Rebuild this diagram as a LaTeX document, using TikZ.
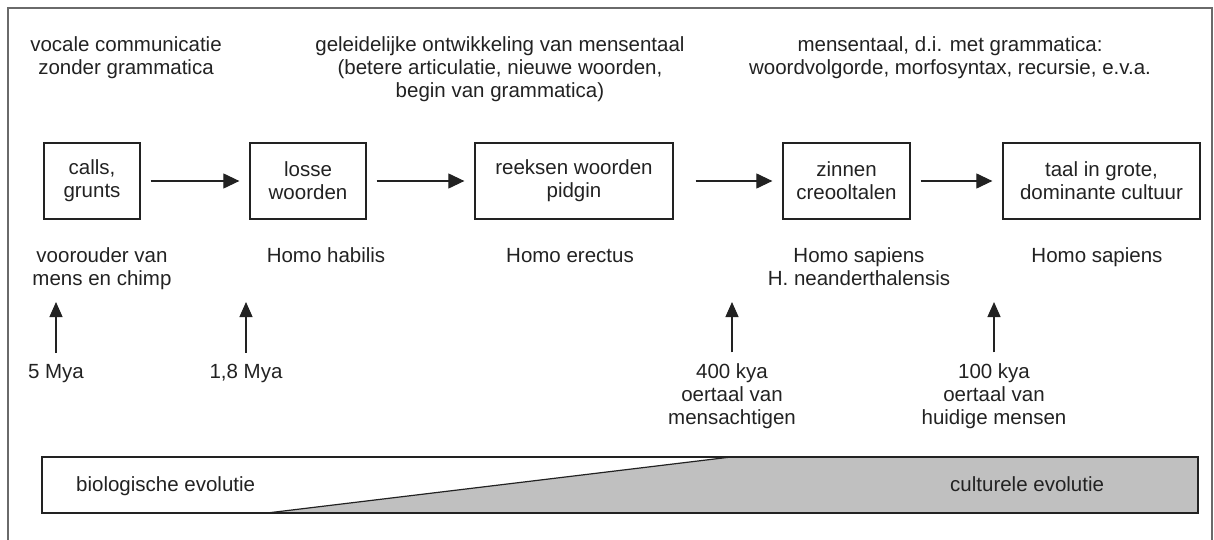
\documentclass[tikz,border=0pt]{standalone}
\usepackage{fontspec}
\setmainfont{Liberation Sans}
\usetikzlibrary{arrows.meta}
\definecolor{ink}{HTML}{222222}
\definecolor{framegray}{HTML}{6A6A6A}
\definecolor{culturegray}{HTML}{C0C0C0}

\begin{document}
\begin{tikzpicture}[x=1pt, y=-1pt,
  every node/.style={text=ink, inner sep=0pt, align=center,
    font=\fontsize{20.5}{23}\selectfont},
  stagebox/.style={draw=ink, line width=1.3pt, minimum height=76pt},
  nextarrow/.style={draw=ink, line width=1.2pt,
    -{Triangle[length=16pt,width=15pt]}, shorten <=10pt, shorten >=10pt},
  uparrow/.style={draw=ink, line width=1.2pt,
    -{Triangle[length=15pt,width=13pt]}, shorten <=10.5pt}]

  \useasboundingbox (0,0) rectangle (1214,540);
  \clip (0,0) rectangle (1214,540);

  % frame
  \draw[framegray, line width=2pt] (8,560) -- (8,8) -- (1212,8) -- (1212,560);

  % headings (base = last line)
  \node[anchor=base] (head1) at (126,75) {vocale communicatie\\zonder grammatica};
  \node[anchor=base] (head2) at (500,98) {geleidelijke ontwikkeling van mensentaal\\(betere articulatie, nieuwe woorden,\\begin van grammatica)};
  \node[anchor=base] (head3) at (950,75) {mensentaal, d.i. met grammatica:\\woordvolgorde, morfosyntax, recursie, e.v.a.};

  % stages
  \node[stagebox, minimum width=96pt]  (calls)   at (92,181)    {calls,\\grunts};
  \node[stagebox, minimum width=116pt] (losse)   at (308,181)   {losse\\woorden};
  \node[stagebox, minimum width=198pt] (reeksen) at (574,181)   {reeksen woorden\\pidgin};
  \node[stagebox, minimum width=127pt] (zinnen)  at (846.5,181) {zinnen\\creooltalen};
  \node[stagebox, minimum width=197pt] (taal)    at (1101.5,181) {taal in grote,\\dominante cultuur};

  \draw[nextarrow] (calls) -- (losse);   % calls -> losse
  \draw[nextarrow] (losse) -- (reeksen); % losse -> reeksen
  \draw[nextarrow, shorten <=22pt] (reeksen) -- (zinnen); % reeksen -> zinnen
  \draw[nextarrow] (zinnen) -- (taal);   % zinnen -> taal

  % species
  \node[anchor=base] (anc)     at (102,285)  {voorouder van\\mens en chimp};
  \node[anchor=base] (habilis) at (326,262)  {Homo habilis};
  \node[anchor=base] (erectus) at (570,262)  {Homo erectus};
  \node[anchor=base] (sapnea)  at (859,285)  {Homo sapiens\\H. neanderthalensis};
  \node[anchor=base] (sapiens) at (1097,262) {Homo sapiens};

  % dates
  \coordinate (tips) at (0,302);
  \node[anchor=base] (mya5)   at (56,378)  {5 Mya};
  \node[anchor=base] (mya18)  at (246,378) {1,8 Mya};
  \node[anchor=base] (kya400) at (732,424) {400 kya\\oertaal van\\mensachtigen};
  \node[anchor=base] (kya100) at (994,424) {100 kya\\oertaal van\\huidige mensen};

  \draw[uparrow] (mya5.north)   -- (mya5.north |- tips);
  \draw[uparrow] (mya18.north)  -- (mya18.north |- tips);
  \draw[uparrow] (kya400.north) -- (kya400.north |- tips);
  \draw[uparrow] (kya100.north) -- (kya100.north |- tips);

  % evolution band
  \coordinate (bandnw) at (42,457);
  \coordinate (bandse) at (1198,513);
  \fill[white] (bandnw) rectangle (bandse);
  \filldraw[fill=culturegray, draw=ink, line width=1.2pt, line join=round]
    (267,513) -- (731,457) -- (1198,457) -- (1198,513) -- cycle;
  \draw[ink, line width=1.2pt] (bandnw) rectangle (bandse);
  \node[anchor=base west] (bio)  at (76,491)  {biologische evolutie};
  \node[anchor=base west] (cult) at (950,491) {culturele evolutie};
\end{tikzpicture}
\end{document}
